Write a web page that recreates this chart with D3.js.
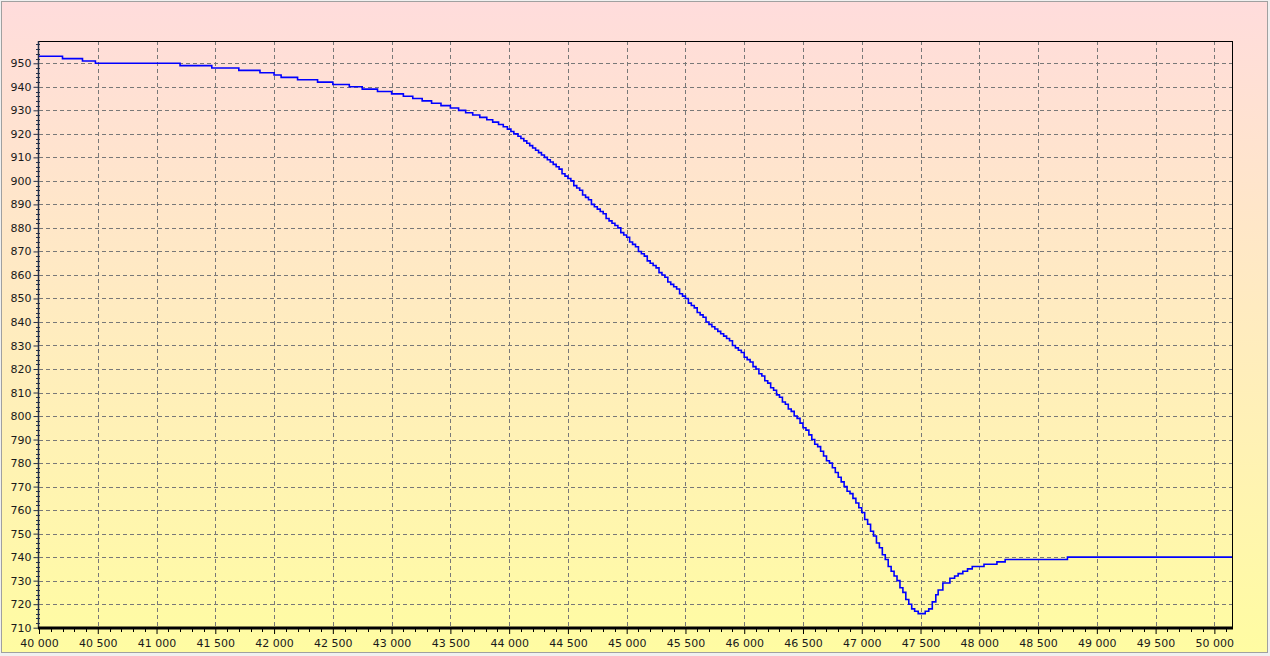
<!DOCTYPE html>
<html>
<head>
<meta charset="utf-8">
<script src="https://cdn.jsdelivr.net/npm/d3@7"></script>
<style>
  html, body { margin: 0; padding: 0; background: #fff; }
  svg { display: block; }
  text { font-family: Tahoma, "DejaVu Sans", "Liberation Sans", Arial, sans-serif; }
</style>
</head>
<body>
<svg id="chart" width="1270" height="656"></svg>
<script>
// ---- data ----
const xTickValues = [40000,40500,41000,41500,42000,42500,43000,43500,44000,44500,45000,45500,46000,46500,47000,47500,48000,48500,49000,49500,50000];
const xTickLabels = ["40 000","40 500","41 000","41 500","42 000","42 500","43 000","43 500","44 000","44 500","45 000","45 500","46 000","46 500","47 000","47 500","48 000","48 500","49 000","49 500","50 000"];
const yTickValues = [710,720,730,740,750,760,770,780,790,800,810,820,830,840,850,860,870,880,890,900,910,920,930,940,950];

// step series: position where the value changes, and the new value
const seriesX = [
  40000,40200,40370,40480,41200,41470,41700,41880,42000,42060,42200,42370,42500,42640,42750,42880,
  43000,43100,43180,43260,43340,43420,43500,43570,43630,43690,43750,43810,43860,43910,43950,43985,
  44015,44040,44075,44100,44125,44150,44175,44200,44225,44250,44275,44300,44325,44350,44375,44400,
  44425,44450,44475,44500,44525,44550,44575,44600,44625,44650,44675,44700,44725,44750,44775,44800,
  44825,44850,44875,44900,44925,44950,44975,45000,45025,45050,45075,45100,45125,45150,45175,45200,
  45225,45250,45275,45300,45325,45350,45375,45400,45425,45450,45475,45500,45525,45550,45575,45600,
  45625,45650,45675,45700,45725,45750,45775,45800,45825,45850,45875,45900,45925,45950,45975,46000,
  46025,46050,46075,46100,46125,46150,46175,46200,46225,46250,46275,46300,46325,46350,46375,46400,
  46425,46450,46475,46500,46525,46550,46575,46600,46625,46650,46675,46700,46725,46750,46775,46800,
  46825,46850,46875,46900,46925,46950,46975,47000,47025,47050,47075,47100,47125,47150,47175,47200,
  47225,47250,47275,47300,47325,47350,47375,47400,47425,47450,47480,47540,47570,47600,47630,47650,
  47690,47750,47790,47820,47860,47900,47940,48040,48150,48220,48750,50150
];
const seriesY = [
  953,952,951,950,949,948,947,946,945,944,943,942,941,940,939,938,
  937,936,935,934,933,932,931,930,929,928,927,926,925,924,923,922,
  921,920,919,918,917,916,915,914,913,912,911,910,909,908,907,906,
  905,903,902,901,900,898,897,896,894,893,892,890,889,888,887,886,
  884,883,882,881,880,878,877,876,874,873,872,870,869,868,866,865,
  864,863,861,860,859,857,856,855,854,852,851,850,848,847,846,844,
  843,842,840,839,838,837,836,835,834,833,832,830,829,828,827,825,
  824,823,821,820,818,817,815,814,812,811,809,808,806,805,803,802,
  800,799,797,795,794,792,790,788,787,785,783,781,780,778,776,774,
  772,770,768,767,765,763,761,759,756,754,751,749,746,744,741,739,
  736,734,732,730,727,725,722,720,718,717,716,717,718,721,724,726,
  729,731,732,733,734,735,736,737,738,739,740,740
];

// ---- layout ----
const W = 1270, H = 656;
const plot = { left: 39, right: 1232, top: 41, bottom: 628 };

const svg = d3.select("#chart");
const defs = svg.append("defs");
const grad = defs.append("linearGradient").attr("id", "bg").attr("x1", 0).attr("y1", 0).attr("x2", 0).attr("y2", 1);
grad.append("stop").attr("offset", "0%").attr("stop-color", "#ffdcdc");
grad.append("stop").attr("offset", "100%").attr("stop-color", "#fffca2");

svg.append("rect").attr("x", 0).attr("y", 0).attr("width", W).attr("height", H).attr("fill", "#f0f0f0");
svg.append("rect").attr("x", 1.5).attr("y", 1.5).attr("width", W - 4).attr("height", H - 5)
  .attr("fill", "url(#bg)").attr("stroke", "#a0a0a0").attr("stroke-width", 1);

const x = d3.scaleLinear().domain([40000, 50150]).range([plot.left, plot.right]);
const y = d3.scaleLinear().domain([709.87, 959.48]).range([plot.bottom, plot.top]);

// grid
const grid = svg.append("g").attr("stroke", "#787878").attr("stroke-width", 1).attr("stroke-dasharray", "4,3");
grid.selectAll("line.h").data(yTickValues.filter(v => v > 710)).join("line")
  .attr("x1", plot.left).attr("x2", plot.right)
  .attr("y1", d => Math.round(y(d)) + 0.5).attr("y2", d => Math.round(y(d)) + 0.5);
grid.selectAll("line.v").data(xTickValues.filter(v => v > 40000)).join("line")
  .attr("y1", plot.top).attr("y2", plot.bottom)
  .attr("x1", d => Math.round(x(d)) + 0.5).attr("x2", d => Math.round(x(d)) + 0.5);

// frame (top & right)
svg.append("line").attr("x1", plot.left).attr("x2", plot.right + 0.5).attr("y1", plot.top + 0.5).attr("y2", plot.top + 0.5).attr("stroke", "#000");
svg.append("line").attr("x1", plot.right + 0.5).attr("x2", plot.right + 0.5).attr("y1", plot.top).attr("y2", plot.bottom).attr("stroke", "#000");

// series
const pts = seriesX.map((v, i) => [v, seriesY[i]]);
const line = d3.line().x(d => x(d[0])).y(d => y(d[1])).curve(d3.curveStepAfter);
svg.append("path").datum(pts).attr("d", line)
  .attr("fill", "none").attr("stroke", "#0000ff").attr("stroke-width", 1.6);

// y axis
const yMinor = d3.range(710, 960, 2);
const yAxis = d3.axisLeft(y).tickValues(yTickValues).tickSize(5).tickPadding(2).tickFormat(d3.format("d"));
const gy = svg.append("g").attr("transform", `translate(${plot.left - 0.5},0)`).call(yAxis);
gy.select(".domain").remove();
gy.selectAll(".tick line").attr("stroke", "#24304a");
gy.selectAll(".tick text").attr("font-size", 11).attr("fill", "#1a1a1a").attr("font-family", "Tahoma, 'DejaVu Sans', Arial, sans-serif");
svg.append("g").selectAll("line").data(yMinor.filter(v => yTickValues.indexOf(v) < 0)).join("line")
  .attr("x1", plot.left - 3).attr("x2", plot.left + 1)
  .attr("y1", d => Math.round(y(d)) + 0.5).attr("y2", d => Math.round(y(d)) + 0.5)
  .attr("stroke", "#24304a");
svg.append("line").attr("x1", plot.left - 0.5).attr("x2", plot.left - 0.5).attr("y1", plot.top).attr("y2", plot.bottom)
  .attr("stroke", "#24304a").attr("stroke-width", 1.5);

// x axis
const xMinor = d3.range(40000, 50150, 100);
const xAxis = d3.axisBottom(x).tickValues(xTickValues).tickSize(5).tickPadding(5)
  .tickFormat((d, i) => xTickLabels[i]);
const gx = svg.append("g").attr("transform", `translate(0,${plot.bottom + 1})`).call(xAxis);
gx.select(".domain").remove();
gx.selectAll(".tick line").attr("stroke", "#000");
gx.selectAll(".tick text").attr("font-size", 11).attr("fill", "#1a1a1a").attr("font-family", "Tahoma, 'DejaVu Sans', Arial, sans-serif");
svg.append("g").selectAll("line").data(xMinor.filter(v => xTickValues.indexOf(v) < 0)).join("line")
  .attr("y1", plot.bottom).attr("y2", plot.bottom + 4)
  .attr("x1", d => Math.round(x(d)) + 0.5).attr("x2", d => Math.round(x(d)) + 0.5)
  .attr("stroke", "#000");
svg.append("line").attr("x1", plot.left - 1).attr("x2", plot.right + 1).attr("y1", plot.bottom).attr("y2", plot.bottom)
  .attr("stroke", "#000").attr("stroke-width", 3);
</script>
</body>
</html>
